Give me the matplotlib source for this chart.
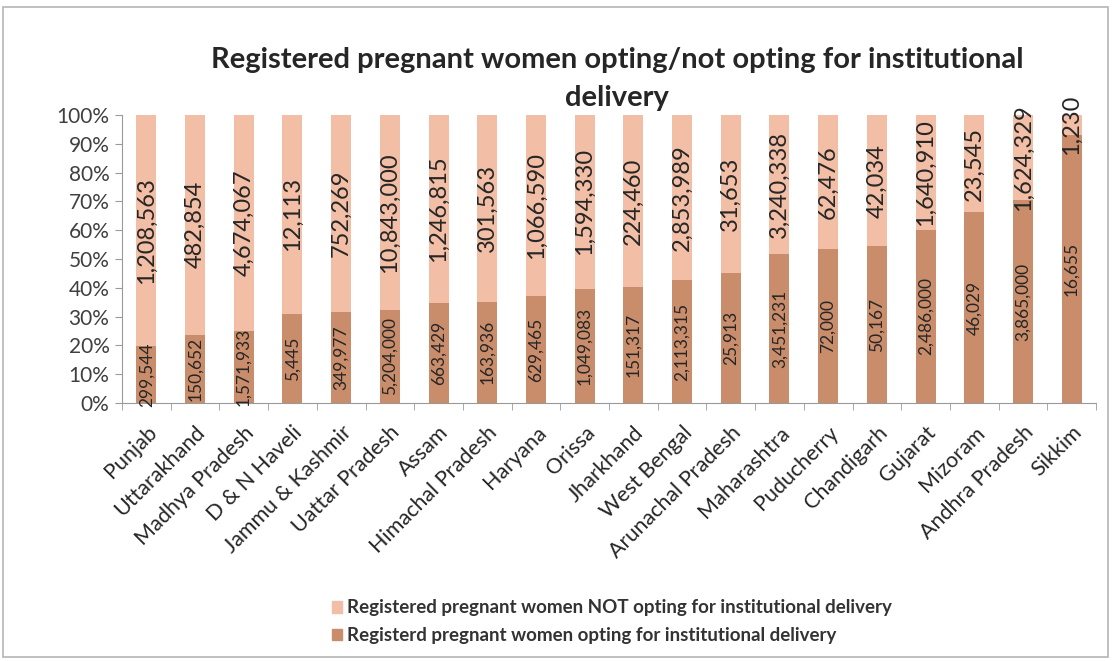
import matplotlib
matplotlib.use("Agg")
import matplotlib.pyplot as plt
from matplotlib.patches import Rectangle, Patch
import numpy as np

states = ["Punjab", "Uttarakhand", "Madhya Pradesh", "D & N Haveli", "Jammu & Kashmir",
          "Uattar Pradesh", "Assam", "Himachal Pradesh", "Haryana", "Orissa", "Jharkhand",
          "West Bengal", "Arunachal Pradesh", "Maharashtra", "Puducherry", "Chandigarh",
          "Gujarat", "Mizoram", "Andhra Pradesh", "Sikkim"]
opting = [299544, 150652, 1571933, 5445, 349977, 5204000, 663429, 163936, 629465, 1049083,
          151317, 2113315, 25913, 3451231, 72000, 50167, 2486000, 46029, 3865000, 16655]
not_opting = [1208563, 482854, 4674067, 12113, 752269, 10843000, 1246815, 301563, 1066590,
              1594330, 224460, 2853989, 31653, 3240338, 62476, 42034, 1640910, 23545,
              1624329, 1230]
yticks = [0, 10, 20, 30, 40, 50, 60, 70, 80, 90, 100]

FONT = ["Lato", "DejaVu Sans"]
plt.rcParams['font.family'] = FONT

dark = "#C98D6B"
light = "#F2BEA6"
txt = "#262626"

fig = plt.figure(figsize=(11.12, 6.61), dpi=100)
fig.patches.append(Rectangle((3/1112, 1-657/661), 1105/1112, 650/661, transform=fig.transFigure,
                             fill=False, edgecolor="#B5B5B5", linewidth=1.2))
ax = fig.add_axes([122/1112, 1-403/661, 974/1112, 288/661])

op = np.array(opting, dtype=float)
no = np.array(not_opting, dtype=float)
tot = op + no
p_op = op / tot * 100
p_no = no / tot * 100
x = np.arange(len(states))
w = 0.41
ax.bar(x, p_op, w, color=dark, label="Registerd pregnant women opting for institutional delivery")
ax.bar(x, p_no, w, bottom=p_op, color=light,
       label="Registered pregnant women NOT opting for institutional delivery")

for i in range(len(states)):
    ax.text(x[i], p_op[i] / 2, f"{opting[i]:,}", rotation=90, ha="center", va="center",
            fontsize=12.5, color=txt, clip_on=False)
    ax.text(x[i], p_op[i] + p_no[i] / 2, f"{not_opting[i]:,}", rotation=90, ha="center",
            va="center", fontsize=17, color=txt, clip_on=False)

ax.set_xlim(-0.5, len(states) - 0.5)
ax.set_ylim(0, 100)
ax.set_yticks(yticks)
ax.set_yticklabels([f"{v}%" for v in yticks], fontsize=15, color="#404040")
ax.set_xticks(x)
ax.set_xticklabels(states, rotation=45, ha="right", rotation_mode="anchor", fontsize=15.5,
                   color=txt)
ax.set_xticks(np.arange(-0.5, len(states), 1), minor=True)
ax.tick_params(axis="x", which="major", length=0, pad=14)
ax.tick_params(axis="x", which="minor", length=5, color="#9A9A9A", direction="out")
ax.tick_params(axis="y", length=5, color="#9A9A9A", direction="out", pad=4)
for s in ["top", "right"]:
    ax.spines[s].set_visible(False)
for s in ["left", "bottom"]:
    ax.spines[s].set_color("#9A9A9A")

fig.text(617/1112, 1-60/661, "Registered pregnant women opting/not opting for institutional",
         ha="center", va="center", fontsize=21, fontweight="bold", color=txt)
fig.text(617/1112, 1-98/661, "delivery", ha="center", va="center", fontsize=21,
         fontweight="bold", color=txt)

handles = [Patch(color=light), Patch(color=dark)]
labels = ["Registered pregnant women NOT opting for institutional delivery",
          "Registerd pregnant women opting for institutional delivery"]
leg = fig.legend(handles, labels, loc="upper left", bbox_to_anchor=(324/1112, 1-592/661),
                 frameon=False, fontsize=13.5, handlelength=0.55, handleheight=0.55,
                 handletextpad=0.3, labelspacing=0.55, borderaxespad=0)
for t in leg.get_texts():
    t.set_fontweight("bold")
    t.set_color("#333333")

fig.savefig("out.png", dpi=100)
